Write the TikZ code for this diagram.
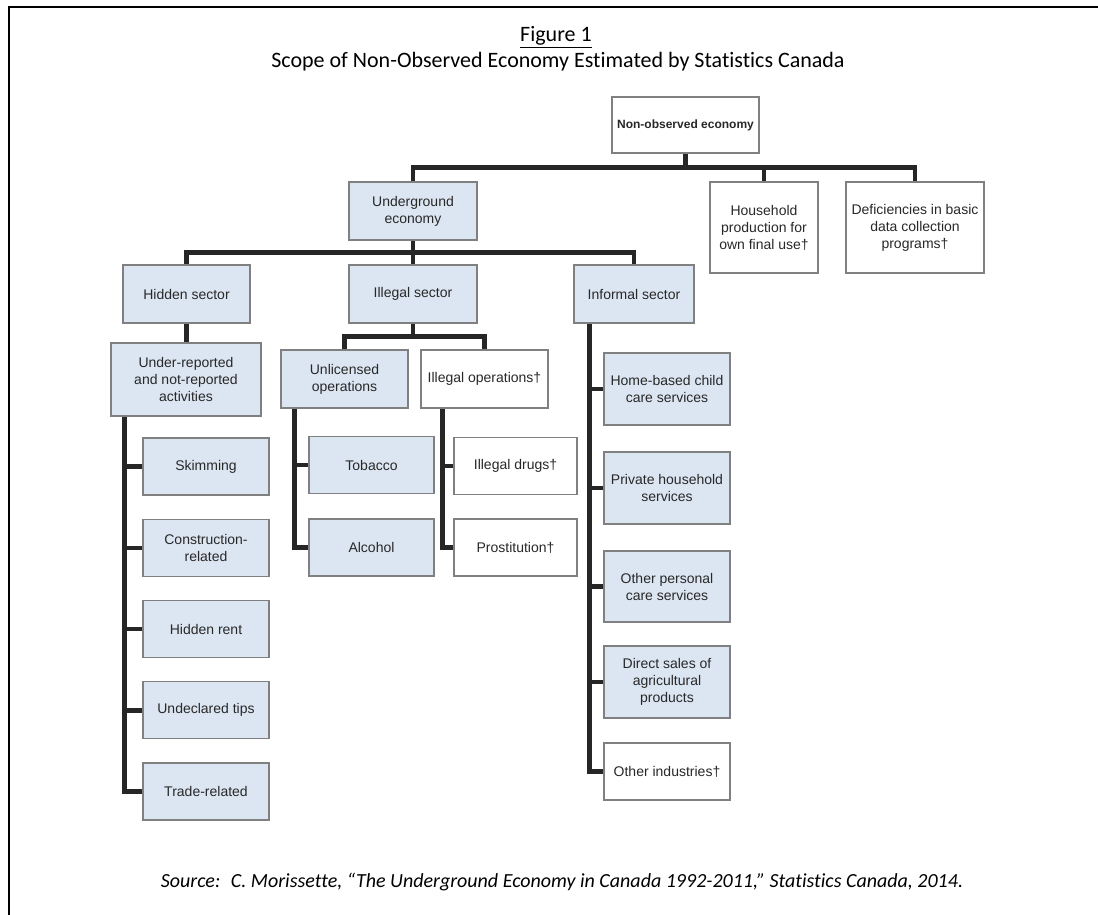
\documentclass[tikz,border=0pt]{standalone}
\usepackage{fontspec}
\setmainfont{Carlito}[Ligatures=NoCommon]
\newfontfamily\arialfont{Liberation Sans}
\usetikzlibrary{backgrounds}
\definecolor{boxblue}{RGB}{220,230,242}
\definecolor{boxgray}{RGB}{128,128,128}
\definecolor{txtgray}{RGB}{40,40,40}
\begin{document}
\begin{tikzpicture}
	[x=1pt, y=-1pt,
	box/.style ={draw=boxgray, line width=1.4pt, fill=boxblue, text=txtgray, align=center, inner sep=1pt, font=\arialfont\fontsize{14}{17}\selectfont},
	open/.style ={box, fill=white},
	boxsize/.style 2 args ={minimum width=#1pt, minimum height=#2pt},
	link/.style ={line width=4.5pt, black!85, line join=miter}]
	\useasboundingbox (0,0) rectangle (1098,915);
	\draw[line width=2pt] (9,915) -- (9,7) -- (1098,7);
	\node[font=\fontsize{22}{26}\selectfont] (fig) at (556,37) {\underline{Figure 1}};
	\node[font=\fontsize{22}{26}\selectfont] (title) at (558,62) {Scope of Non-Observed Economy Estimated by Statistics Canada};
	% top level
	\node[open, boxsize={147}{56}, font=\arialfont\bfseries\fontsize{12}{14}\selectfont] (noe) at (685.5,125) {Non-observed economy};
	\node[box, boxsize={128}{58}] (ue) at (413,211) {Underground\\economy};
	\node[open, boxsize={108}{91}] (hh) at (764,227.5) {Household\\production for\\own final use†};
	\node[open, boxsize={138}{91}] (dc) at (915,227.5) {Deficiencies in basic\\data collection\\programs†};
	% sectors
	\node[box, boxsize={127}{58}] (hs) at (186.5,294) {Hidden sector};
	\node[box, boxsize={128}{58}] (ils) at (413,294) {Illegal sector};
	\node[box, boxsize={120}{58}] (ifs) at (634,294) {Informal sector};
	\node[box, boxsize={150}{73}] (ur) at (186,379.5) {Under-reported\\and not-reported\\activities};
	\node[box, boxsize={127}{58}] (unl) at (344.5,379) {Unlicensed\\operations};
	\node[open, boxsize={127}{58}] (ilo) at (484.5,379) {Illegal operations†};
	% hidden sector items
	\node[box, boxsize={126}{57}] (sk) at (206,466.5) {Skimming};
	\node[box, boxsize={126}{57}] (cr) at (206,547.75) {Construction-\\related};
	\node[box, boxsize={126}{57}] (hr) at (206,629) {Hidden rent};
	\node[box, boxsize={126}{57}] (ut) at (206,710.25) {Undeclared tips};
	\node[box, boxsize={126}{57}] (tr) at (206,791.5) {Trade-related};
	% illegal sector items
	\node[box, boxsize={125}{57}] (tob) at (371.5,465) {Tobacco};
	\node[box, boxsize={125}{57}] (alc) at (371.5,547.5) {Alcohol};
	\node[open, boxsize={123}{57}] (drg) at (515.5,466) {Illegal drugs†};
	\node[open, boxsize={123}{57}] (pro) at (515.5,547.5) {Prostitution†};
	% informal sector items
	\node[box, boxsize={126}{72}] (hb) at (667,389) {Home-based child\\care services};
	\node[box, boxsize={126}{72}] (ph) at (667,488) {Private household\\services};
	\node[box, boxsize={126}{71}] (op) at (667,586.5) {Other personal\\care services};
	\node[box, boxsize={126}{72}] (ds) at (667,682) {Direct sales of\\agricultural\\products};
	\node[open, boxsize={126}{57}] (oi) at (667,771.5) {Other industries†};
	\node[font=\itshape\fontsize{20}{24}\selectfont] (src) at (562,882) {Source:~ C. Morissette, “The Underground Economy in Canada 1992-2011,” Statistics Canada, 2014.};
	% connectors
	\begin{scope}[on background layer]
	\draw[link] (noe.south) -- ++(0,14) coordinate (b1);
	\draw[link] (ue.north) |- (b1) -| (dc.north);
	\draw[link] (hh.north) -- (hh.north |- b1);
	\draw[link] (ue.south) -- ++(0,12) coordinate (b2);
	\draw[link] (hs.north) |- (b2) -| (ifs.north);
	\draw[link] (ils.north) -- (b2);
	\draw[link] (hs.south) -- (hs.south |- ur.north);
	\draw[link] (ils.south) -- ++(0,13) coordinate (b3);
	\draw[link] (unl.north) |- (b3) -| (ilo.north);
	\coordinate (urx) at ([xshift=14pt]ur.south west);
	\draw[link] (urx) |- (tr.west);
	\foreach \c in {sk,cr,hr,ut} \draw[link] (urx |- \c.west) -- (\c.west);
	\coordinate (unx) at ([xshift=14pt]unl.south west);
	\draw[link] (unx) |- (alc.west);
	\draw[link] (unx |- tob.west) -- (tob.west);
	\coordinate (ilx) at ([xshift=22pt]ilo.south west);
	\draw[link] (ilx) |- (pro.west);
	\draw[link] (ilx |- drg.west) -- (drg.west);
	\coordinate (ifx) at ([xshift=16pt]ifs.south west);
	\draw[link] (ifx) |- (oi.west);
	\foreach \c in {hb,ph,op,ds} \draw[link] (ifx |- \c.west) -- (\c.west);
	\end{scope}
\end{tikzpicture}
\end{document}
